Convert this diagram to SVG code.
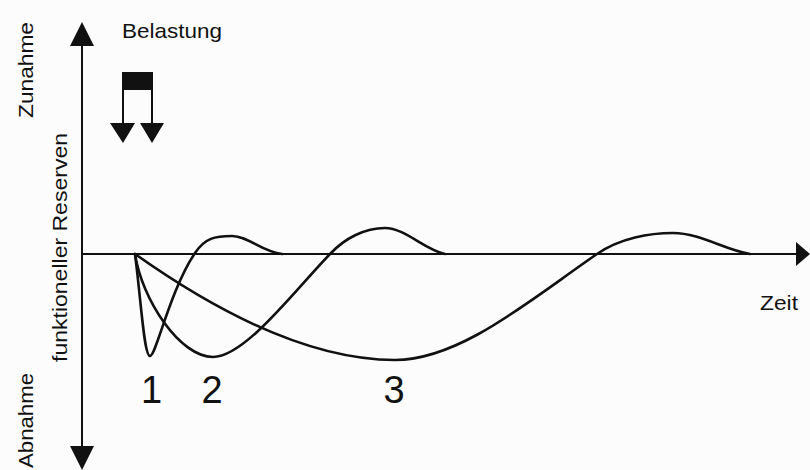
<svg xmlns="http://www.w3.org/2000/svg" width="810" height="470" viewBox="0 0 810 470">
<style>
.t{font-family:"Liberation Sans",Arial,Helvetica,sans-serif;fill:#111}
.lbl{font-size:21px}
.num{font-size:38px}
.ax{stroke:#111;stroke-width:2;fill:none}
.cv{stroke:#111;stroke-width:2.6;fill:none;stroke-linecap:round;stroke-linejoin:round}
.ah{fill:#111}
</style>
<rect width="810" height="470" fill="#fcfcfc"/>
<g id="axes">
<line class="ax" x1="82" y1="40" x2="82" y2="450"/>
<polygon class="ah" points="82,22 70,46 94,46"/>
<polygon class="ah" points="82,470 70,446 94,446"/>
<line class="ax" x1="82" y1="254" x2="798" y2="254"/>
<polygon class="ah" points="810,254 796,242 796,266"/>
</g>
<g id="axis-labels">
<text class="t lbl" transform="translate(33,118) rotate(-90)" textLength="96" lengthAdjust="spacingAndGlyphs">Zunahme</text>
<text class="t lbl" transform="translate(67,362) rotate(-90)" textLength="229" lengthAdjust="spacingAndGlyphs">funktioneller Reserven</text>
<text class="t lbl" transform="translate(33,468) rotate(-90)" textLength="95" lengthAdjust="spacingAndGlyphs">Abnahme</text>
<text class="t lbl" x="760" y="310" textLength="38" lengthAdjust="spacingAndGlyphs">Zeit</text>
</g>
<g id="belastung">
<text class="t lbl" x="122" y="38" textLength="100" lengthAdjust="spacingAndGlyphs">Belastung</text>
<rect x="122" y="72" width="31" height="18" fill="#111"/>
<line class="ax" x1="123" y1="88" x2="123" y2="126"/>
<line class="ax" x1="152" y1="88" x2="152" y2="126"/>
<polygon class="ah" points="110,123 135,123 123,143"/>
<polygon class="ah" points="140,123 164,123 152,143"/>
</g>
<g id="curves">
<path id="curve1" class="cv" d="M135,254 C141,300 144,356 150,356 C156,356 170,290 195,253 C205,238 215,236 232,236 C248,236 262,252 282,254"/>
<path id="curve2" class="cv" d="M135,254 C142,300 180,357 213,357 C245,357 295,290 330,254 C345,238 365,228 385,228 C405,228 425,250 445,254"/>
<path id="curve3" class="cv" d="M135,254 C200,300 300,360 395,360 C460,360 530,300 597,254 C620,238 650,233 673,233 C700,233 725,250 750,254"/>
</g>
<g id="curve-labels">
<text class="t num" x="151.5" y="403" text-anchor="middle">1</text>
<text class="t num" x="212" y="403" text-anchor="middle">2</text>
<text class="t num" x="394" y="403" text-anchor="middle">3</text>
</g>
</svg>
